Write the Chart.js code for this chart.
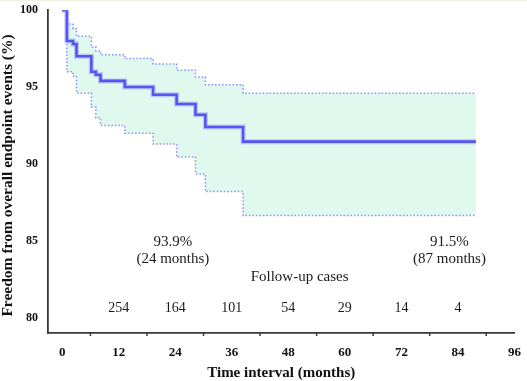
<!DOCTYPE html>
<html>
<head>
<meta charset="utf-8">
<script src="https://cdn.jsdelivr.net/npm/chart.js@4.4.1/dist/chart.umd.min.js"></script>
<style>
  html, body { margin: 0; padding: 0; background: #ffffff; }
  #wrap { position: relative; width: 527px; height: 381px; }
  #topline { position: absolute; left: 0; top: 0; width: 527px; height: 1px; background: #efefe2; }
</style>
</head>
<body>
<div id="wrap">
  <canvas id="c" width="527" height="381"></canvas>
  <div id="topline"></div>
</div>
<script>
// ---- data ----
const times    = [0, 1, 2.3, 3.05, 6.2, 7.15, 8.15, 13.3, 19.3, 24.3, 28.3, 30.4, 38.4, 87.8];
const survival = [100, 98.0, 97.8, 97.0, 96.0, 95.8, 95.4, 95.0, 94.5, 93.9, 93.2, 92.4, 91.45, 91.45];
const upperCI  = [100, 99.1, 98.8, 98.3, 97.6, 97.35, 97.1, 96.85, 96.5, 96.1, 95.65, 95.15, 94.6, 94.6];
const lowerCI  = [100, 96.0, 95.7, 94.6, 93.7, 93.0, 92.5, 92.0, 91.3, 90.45, 89.35, 88.2, 86.65, 86.65];

const riskTimes  = [12, 24, 36, 48, 60, 72, 84];
const riskCounts = [254, 164, 101, 54, 29, 14, 4];

const xTicks      = [0, 12, 24, 36, 48, 60, 72, 84, 96];
const xMinorTicks = [6, 18, 30, 42, 54, 66, 78, 90];
const yTicks      = [80, 85, 90, 95, 100];

const annotations = [
  { text: '93.9%',           x: 23.5, y: 84.9,  size: 15 },
  { text: '(24 months)',     x: 23.5, y: 83.78, size: 15 },
  { text: '91.5%',           x: 82.2, y: 84.9,  size: 15 },
  { text: '(87 months)',     x: 82.2, y: 83.78, size: 15 },
  { text: 'Follow-up cases', x: 50.4, y: 82.65, size: 15 }
];
const riskLabelY = 80.58;

const pts = arr => times.map((t, i) => ({ x: t, y: arr[i] }));

const SERIF = '"Liberation Serif", "Times New Roman", serif';
const AXIS = '#3a3a3a';

const extras = {
  id: 'extras',
  afterDraw(chart) {
    const { ctx, scales: { x, y } } = chart;
    ctx.save();
    // minor ticks on the x axis
    ctx.strokeStyle = AXIS;
    ctx.lineWidth = 1.5;
    const base = y.getPixelForValue(y.min);
    xMinorTicks.forEach(v => {
      const px = x.getPixelForValue(v);
      ctx.beginPath();
      ctx.moveTo(px, base);
      ctx.lineTo(px, base + 3);
      ctx.stroke();
    });
    // annotations
    ctx.fillStyle = '#1a1a1a';
    ctx.textAlign = 'center';
    ctx.textBaseline = 'middle';
    annotations.forEach(a => {
      ctx.font = a.size + 'px ' + SERIF;
      ctx.fillText(a.text, x.getPixelForValue(a.x), y.getPixelForValue(a.y));
    });
    ctx.font = '14px ' + SERIF;
    riskTimes.forEach((t, i) => {
      ctx.fillText(String(riskCounts[i]), x.getPixelForValue(t), y.getPixelForValue(riskLabelY));
    });
    ctx.restore();
  }
};

new Chart(document.getElementById('c'), {
  type: 'line',
  data: {
    datasets: [
      {
        label: 'upper',
        data: pts(upperCI),
        stepped: 'before',
        borderColor: '#8c8cf2',
        borderWidth: 1.5,
        borderDash: [1.5, 2],
        pointRadius: 0,
        fill: '+1',
        backgroundColor: '#e0f9ef',
        order: 3
      },
      {
        label: 'lower',
        data: pts(lowerCI),
        stepped: 'before',
        borderColor: '#8c8cf2',
        borderWidth: 1.5,
        borderDash: [1.5, 2],
        pointRadius: 0,
        fill: false,
        order: 2
      },
      {
        label: 'survival-halo',
        data: pts(survival),
        stepped: 'before',
        borderColor: 'rgba(110,110,245,0.35)',
        borderWidth: 5,
        pointRadius: 0,
        fill: false,
        order: 1
      },
      {
        label: 'survival',
        data: pts(survival),
        stepped: 'before',
        borderColor: '#5555f0',
        borderWidth: 2.6,
        pointRadius: 0,
        fill: false,
        order: 0
      }
    ]
  },
  options: {
    responsive: false,
    animation: false,
    devicePixelRatio: 1,
    layout: { padding: { top: 6, right: 12, left: 0, bottom: 0 } },
    plugins: { legend: { display: false }, tooltip: { enabled: false } },
    scales: {
      x: {
        type: 'linear',
        min: -3,
        max: 96,
        afterBuildTicks: s => { s.ticks = xTicks.map(v => ({ value: v })); },
        afterFit: s => { s.height = 48; },
        grid: { display: false, drawOnChartArea: false, drawTicks: true, tickLength: 6, tickColor: AXIS, tickWidth: 1.5 },
        border: { display: true, color: AXIS, width: 1.8 },
        ticks: {
          color: '#111',
          font: { family: SERIF, size: 13, weight: 'bold' },
          padding: 6,
          maxRotation: 0,
          autoSkip: false
        },
        title: {
          display: true,
          text: 'Time interval (months)',
          color: '#111',
          font: { family: SERIF, size: 15, weight: 'bold', lineHeight: 1 },
          padding: { top: 0, bottom: 0.5 }
        }
      },
      y: {
        type: 'linear',
        min: 79,
        max: 100,
        afterBuildTicks: s => { s.ticks = yTicks.map(v => ({ value: v })); },
        afterFit: s => { s.width = 48; },
        grid: { display: false, drawOnChartArea: false, drawTicks: true, tickLength: 7, tickColor: AXIS, tickWidth: 1.5 },
        border: { display: true, color: AXIS, width: 1.8 },
        ticks: {
          color: '#111',
          font: { family: SERIF, size: 12, weight: 'bold' },
          padding: 3,
          autoSkip: false
        },
        title: {
          display: true,
          text: 'Freedom from overall endpoint events (%)  ',
          color: '#111',
          font: { family: SERIF, size: 15.5, weight: 'bold', lineHeight: 1 },
          padding: { top: 0, bottom: 0 }
        }
      }
    }
  },
  plugins: [extras]
});
</script>
</body>
</html>
